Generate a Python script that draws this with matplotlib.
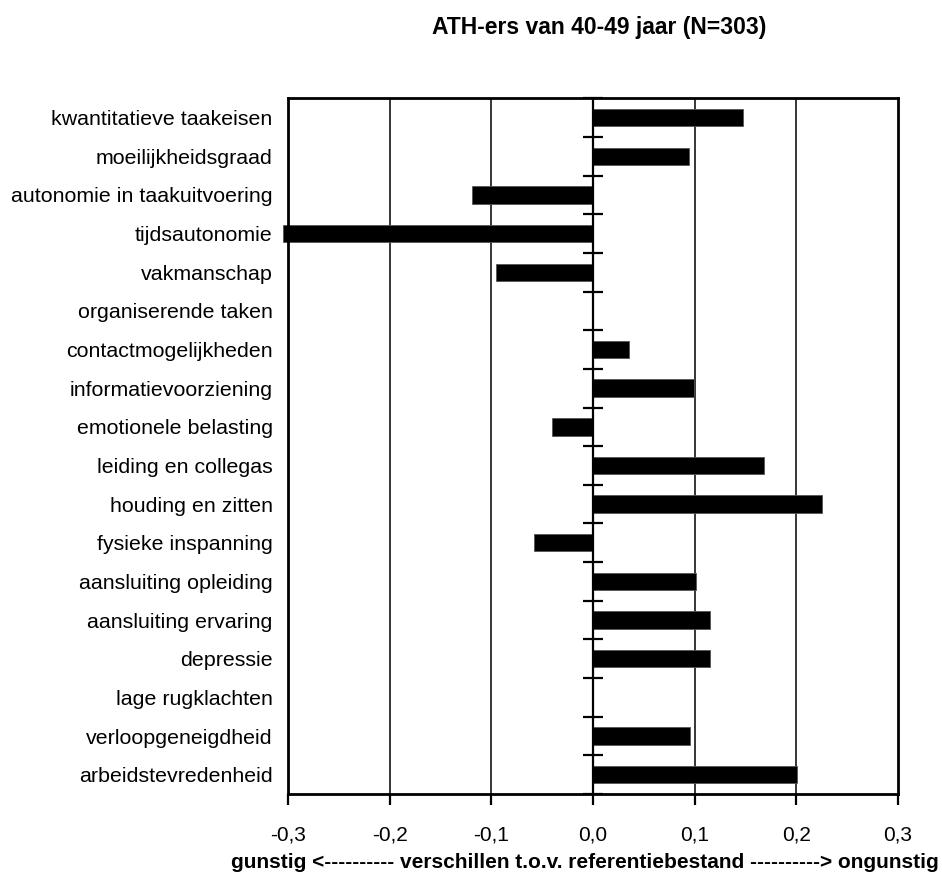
import matplotlib
matplotlib.use("Agg")
import matplotlib.pyplot as plt
import numpy as np

plt.rcParams['font.family'] = ['Liberation Sans', 'DejaVu Sans']

# data
categories = [
    "kwantitatieve taakeisen",
    "moeilijkheidsgraad",
    "autonomie in taakuitvoering",
    "tijdsautonomie",
    "vakmanschap",
    "organiserende taken",
    "contactmogelijkheden",
    "informatievoorziening",
    "emotionele belasting",
    "leiding en collegas",
    "houding en zitten",
    "fysieke inspanning",
    "aansluiting opleiding",
    "aansluiting ervaring",
    "depressie",
    "lage rugklachten",
    "verloopgeneigdheid",
    "arbeidstevredenheid",
]
values = [0.148, 0.094, -0.119, -0.305, -0.095, 0.0, 0.035, 0.099, -0.040,
          0.168, 0.225, -0.058, 0.101, 0.115, 0.115, 0.0, 0.095, 0.201]
xticks = [-0.3, -0.2, -0.1, 0.0, 0.1, 0.2, 0.3]
xticklabels = ["-0,3", "-0,2", "-0,1", "0,0", "0,1", "0,2", "0,3"]

title = "ATH-ers van 40-49 jaar (N=303)"
xlabel = "gunstig <---------- verschillen t.o.v. referentiebestand ----------> ongunstig"

fig = plt.figure(figsize=(9.42, 8.82), dpi=100)
ax = fig.add_axes([0.3057, 0.0998, 0.6476, 0.7887])

n = len(categories)
ypos = np.arange(n)
ax.barh(ypos, values, height=0.45, color="black", edgecolor="#555555",
        linewidth=0.6, zorder=3, clip_on=False)

ax.set_xlim(-0.3, 0.3)
ax.set_ylim(n - 0.5, -0.5)

# vertical gridlines
for x in xticks[1:-1]:
    if x != 0:
        ax.axvline(x, color="black", lw=1.1, zorder=1)

# value axis through zero with crossing tick marks at category boundaries
ax.axvline(0, color="black", lw=1.6, zorder=4)
bounds = np.arange(n + 1) - 0.5
ax.plot(np.zeros(len(bounds)), bounds, ls="none", marker="_", ms=14,
        mew=1.6, color="black", zorder=4, clip_on=False)

ax.set_yticks(ypos)
ax.set_yticklabels(categories, fontsize=15.4)
ax.tick_params(axis="y", length=0, pad=11)

ax.set_xticks(xticks)
ax.set_xticklabels(xticklabels, fontsize=15)
ax.tick_params(axis="x", direction="out", length=8, width=1.6, pad=15)

for s in ax.spines.values():
    s.set_linewidth(2.0)
    s.set_zorder(5)

fig.text(0.636, 0.969, title, ha="center", va="center", fontsize=16.5,
         fontweight="bold")
fig.text(0.6205, 0.022, xlabel, ha="center", va="center", fontsize=15,
         fontweight="bold")

fig.savefig("out.png", dpi=100)
